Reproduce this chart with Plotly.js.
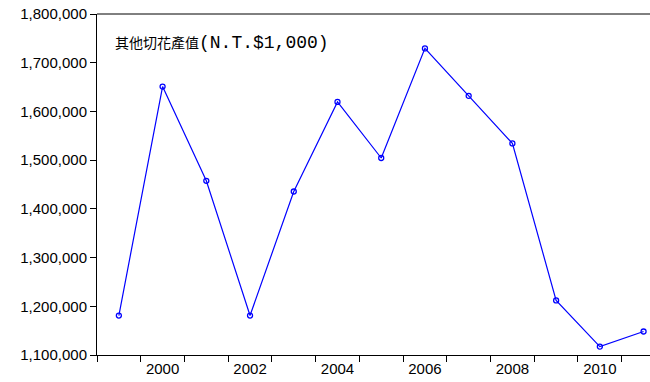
<!DOCTYPE html>
<html>
<head>
<meta charset="utf-8">
<script src="https://cdn.plot.ly/plotly-3.0.1.min.js"></script>
<style>html,body{margin:0;padding:0;background:#fff;}#chart{width:650px;height:382px;}</style>
</head>
<body>
<div id="chart"></div>
<script>
const years = [1999, 2000, 2001, 2002, 2003, 2004, 2005, 2006, 2007, 2008, 2009, 2010, 2011];
const values = [1181000, 1651000, 1457600, 1181000, 1435600, 1619600, 1504400, 1729400, 1632000, 1534400, 1212000, 1117300, 1148200];
const xTickVals = [2000, 2002, 2004, 2006, 2008, 2010];
const xTickText = ['2000', '2002', '2004', '2006', '2008', '2010'];
const yTickVals = [1100000, 1200000, 1300000, 1400000, 1500000, 1600000, 1700000, 1800000];
const yTickText = ['1,100,000', '1,200,000', '1,300,000', '1,400,000', '1,500,000', '1,600,000', '1,700,000', '1,800,000'];
const seriesLabelCJK = '其他切花產值';
const seriesLabelUnit = '(N.T.$1,000)';

const trace = {
  x: years,
  y: values,
  type: 'scatter',
  mode: 'lines+markers',
  line: {color: '#0000ff', width: 1.2},
  marker: {symbol: 'circle-open', size: 5, color: '#0000ff', line: {width: 1.3, color: '#0000ff'}},
  hoverinfo: 'skip'
};

const layout = {
  width: 650,
  height: 382,
  margin: {l: 97, r: 0, t: 14, b: 27, pad: 0},
  paper_bgcolor: '#ffffff',
  plot_bgcolor: '#ffffff',
  showlegend: false,
  xaxis: {
    range: [1998.5, 2011.147],
    tickmode: 'array',
    tickvals: xTickVals,
    ticktext: xTickText,
    ticks: '',
    showgrid: false,
    zeroline: false,
    showline: true,
    linecolor: '#000000',
    linewidth: 1,
    tickfont: {family: 'Liberation Sans, Arial, sans-serif', size: 15, color: '#000'},
    minor: {tick0: 1998.5, dtick: 1, ticks: 'outside', ticklen: 6, tickwidth: 1, tickcolor: '#000', showgrid: false}
  },
  yaxis: {
    range: [1100000, 1800000],
    tickmode: 'array',
    tickvals: yTickVals,
    ticktext: yTickText,
    ticks: 'outside',
    ticklen: 6,
    tickwidth: 1,
    tickcolor: '#000',
    showgrid: false,
    zeroline: false,
    showline: true,
    linecolor: '#000000',
    linewidth: 1,
    tickfont: {family: 'Liberation Sans, Arial, sans-serif', size: 15, color: '#000'}
  },
  shapes: [
    {type: 'line', xref: 'paper', yref: 'paper', x0: 0, x1: 1, y0: 1, y1: 1, line: {color: '#000', width: 1}}
  ],
  annotations: [
    {
      xref: 'paper', yref: 'paper', x: 0.029, y: 0.915, xanchor: 'left', yanchor: 'middle',
      showarrow: false,
      text: '<span style="font-family:\'Noto Sans CJK TC\';font-size:14px">' + seriesLabelCJK + '</span>' +
            '<span style="font-family:\'Liberation Mono\';font-size:18px">' + seriesLabelUnit + '</span>',
      font: {family: 'Noto Sans CJK TC', size: 14, color: '#000'}
    }
  ]
};

Plotly.newPlot('chart', [trace], layout, {displayModeBar: false, staticPlot: true});
</script>
</body>
</html>
